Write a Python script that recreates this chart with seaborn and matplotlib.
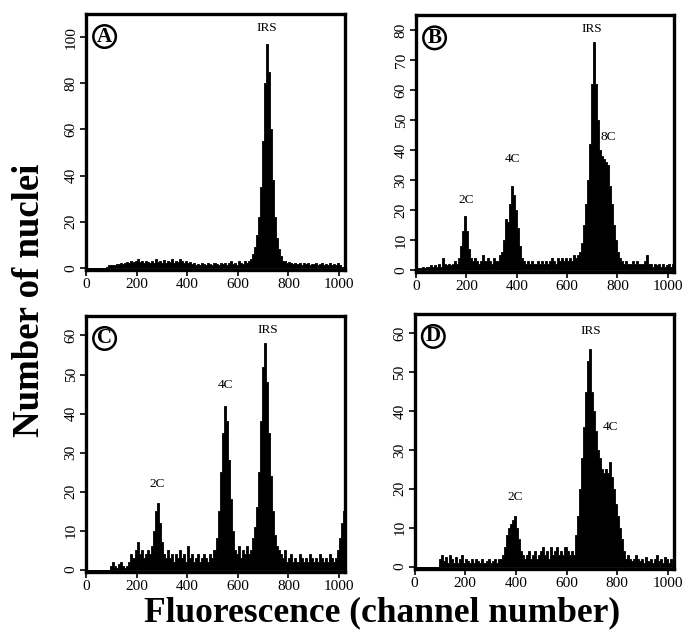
import numpy as np
import pandas as pd
import matplotlib
matplotlib.use("Agg")
import matplotlib.pyplot as plt
import seaborn as sns

sns.set_theme(style="white")
plt.rcParams['font.family'] = ['Liberation Serif', 'DejaVu Serif']
plt.rcParams['text.color'] = 'black'
plt.rcParams['axes.labelcolor'] = 'black'
plt.rcParams['xtick.color'] = 'black'
plt.rcParams['ytick.color'] = 'black'

# channel bins (width 8, channels 0..1023)
bin_width = 8
bin_starts = np.arange(0, 1024, bin_width)

counts_A = [
    0, 0, 0, 0, 0, 0, 0, 0, 0, 0, 0.5, 1, 1, 1, 1, 1.5,
    1.5, 2, 1.5, 2, 2.5, 2, 3, 2.5, 3, 4, 2.5, 3, 2, 3, 2.5, 2,
    3, 2, 4, 2.5, 3, 2, 3.5, 2, 3, 2.5, 4, 2, 3, 2.5, 4, 3,
    2, 3, 2, 2.5, 1.5, 2, 1, 1.5, 1, 2, 1.5, 1, 2, 1.5, 1, 2,
    1.5, 1, 2, 1.5, 2, 1, 2, 3, 1.5, 2, 1, 3, 2, 1.5, 3, 2,
    3, 4, 6, 9, 14, 22, 35, 55, 80, 97, 85, 60, 38, 22, 13, 8,
    5, 3, 3, 2, 2.5, 2, 1.5, 2, 1.5, 2, 1, 2, 1.5, 2, 1, 1.5,
    1.5, 2, 1, 1.5, 2, 1, 1.5, 1, 2, 1, 1.5, 1, 2, 1, 0.5, 0.5,
]
counts_B = [
    0.5, 0.5, 0.5, 1, 0.5, 1, 1, 1.5, 1, 1.5, 1, 2, 1, 4, 2, 1.5,
    2, 1.5, 2, 3, 2, 4, 8, 13, 18, 13, 7, 4, 3, 4, 3, 2,
    3, 5, 3, 4, 3, 2, 4, 3, 3, 5, 6, 10, 17, 16, 22, 28,
    25, 20, 14, 8, 4, 3, 2, 3, 2, 3, 2, 2, 3, 2, 3, 2,
    3, 2, 3, 4, 3, 2, 4, 3, 4, 3, 4, 3, 4, 3, 5, 4,
    5, 6, 9, 15, 22, 30, 42, 62, 76, 62, 50, 40, 38, 37, 36, 35,
    28, 22, 15, 10, 6, 4, 3, 2, 3, 2, 2, 3, 2, 3, 2, 2,
    2, 3, 5, 2, 2, 1, 2, 1.5, 2, 1, 2, 1, 1.5, 2, 1, 2,
]
counts_C = [
    0, 0, 0, 0, 0, 0, 0, 0, 0, 0, 0, 0, 1, 2, 1, 0.5,
    1.5, 2, 1, 0.5, 1, 2, 4, 3, 5, 7, 4, 5, 3, 4, 5, 4,
    6, 10, 15, 17, 12, 7, 4, 3, 5, 3, 4, 2, 4, 3, 5, 3,
    4, 2, 6, 3, 4, 2, 3, 4, 2, 3, 4, 3, 2, 4, 3, 5,
    8, 15, 25, 35, 42, 38, 28, 18, 10, 5, 4, 6, 3, 5, 4, 6,
    4, 5, 8, 11, 16, 25, 38, 52, 58, 48, 35, 24, 15, 9, 6, 5,
    4, 3, 5, 2, 3, 4, 2, 3, 2, 4, 3, 2, 3, 2, 4, 3,
    2, 3, 2, 4, 3, 2, 3, 2, 4, 3, 2, 3, 5, 8, 12, 15,
]
counts_D = [
    0, 0, 0, 0, 0, 0, 0, 0, 0, 0, 0, 0, 2, 3, 1.5, 2.5,
    1, 3, 2, 1, 2.5, 1, 2, 3, 1, 2, 1.5, 1, 2, 1, 2, 1.5,
    1, 2, 1, 1.5, 2, 1, 1.5, 2, 1, 2, 2, 3, 5, 8, 10, 11,
    12, 13, 10, 7, 4, 3, 2, 3, 4, 2, 3, 4, 2, 3, 4, 5,
    3, 4, 2, 5, 3, 4, 5, 3, 4, 3, 5, 4, 3, 4, 3, 8,
    13, 20, 28, 36, 45, 53, 56, 45, 40, 35, 30, 28, 25, 24, 25, 24,
    27, 23, 20, 16, 13, 10, 7, 4, 2, 3, 2, 1.5, 2, 3, 2, 1.5,
    2, 1, 2.5, 1.5, 2, 1, 2, 3, 1.5, 2, 1, 2.5, 2, 1, 2, 1,
]

panel_letters = ["A", "B", "C", "D"]
panel_counts = [counts_A, counts_B, counts_C, counts_D]
panel_ymax = [110, 85, 65, 65]
panel_ymin = [-1, -0.7, -0.6, -0.6]
panel_yticks = [[0, 20, 40, 60, 80, 100],
                [0, 10, 20, 30, 40, 50, 60, 70, 80],
                [0, 10, 20, 30, 40, 50, 60],
                [0, 10, 20, 30, 40, 50, 60]]
x_ticks = [0, 200, 400, 600, 800, 1000]

# peak annotations: (label, channel, count)
peak_labels = [
    [("IRS", 716, 104)],
    [("2C", 201, 23.3), ("4C", 384, 37), ("IRS", 700, 80.5), ("8C", 765, 44.4)],
    [("2C", 283, 22), ("4C", 553, 47.3), ("IRS", 717, 61.4)],
    [("2C", 397, 18), ("IRS", 695, 60.7), ("4C", 773, 36)],
]

positions = [
    [0.126, 0.576, 0.380, 0.402],
    [0.610, 0.573, 0.378, 0.403],
    [0.126, 0.102, 0.380, 0.402],
    [0.608, 0.107, 0.380, 0.400],
]

fig = plt.figure(figsize=(6.82, 6.37), dpi=100)

for i in range(4):
    ax = fig.add_axes(positions[i])
    df = pd.DataFrame({"channel": (bin_starts + bin_width / 2).astype(float),
                       "count": np.asarray(panel_counts[i], dtype=float)})
    sns.histplot(data=df, x="channel", weights="count",
                 binwidth=bin_width, binrange=(0, 1024),
                 element="step", fill=True, color="black", alpha=1,
                 linewidth=0.6, ax=ax)
    ax.set_xlim(0, 1024)
    ax.set_ylim(panel_ymin[i], panel_ymax[i])
    ax.set_xticks(x_ticks)
    ax.set_yticks(panel_yticks[i])
    ax.set_xticklabels([str(t) for t in x_ticks], fontsize=11)
    ax.set_yticklabels([str(t) for t in panel_yticks[i]], fontsize=11,
                       rotation=90, va="center")
    ax.tick_params(axis="both", direction="out", length=4, width=1.2,
                   color="black", pad=2, labelcolor="black",
                   bottom=True, left=True)
    ax.set_xlabel("")
    ax.set_ylabel("")
    for sp in ax.spines.values():
        sp.set_visible(True)
        sp.set_color("black")
        sp.set_linewidth(2.4)
    ax.grid(False)
    ax.text(0.072, 0.912, panel_letters[i], transform=ax.transAxes,
            fontsize=15, fontweight="bold", ha="center", va="center",
            color="black",
            bbox=dict(boxstyle="circle,pad=0.06", fc="white", ec="black", lw=1.8))
    for lab, xx, yy in peak_labels[i]:
        ax.text(xx, yy, lab, fontsize=9.5, ha="center", va="center", color="black")

fig.text(0.043, 0.528, "Number of nuclei", rotation=90, fontsize=26.5,
         fontweight="bold", ha="center", va="center", color="black")
fig.text(0.56, 0.038, "Fluorescence (channel number)", fontsize=25.5,
         fontweight="bold", ha="center", va="center", color="black")

fig.savefig("out.png", dpi=100, facecolor="white")
